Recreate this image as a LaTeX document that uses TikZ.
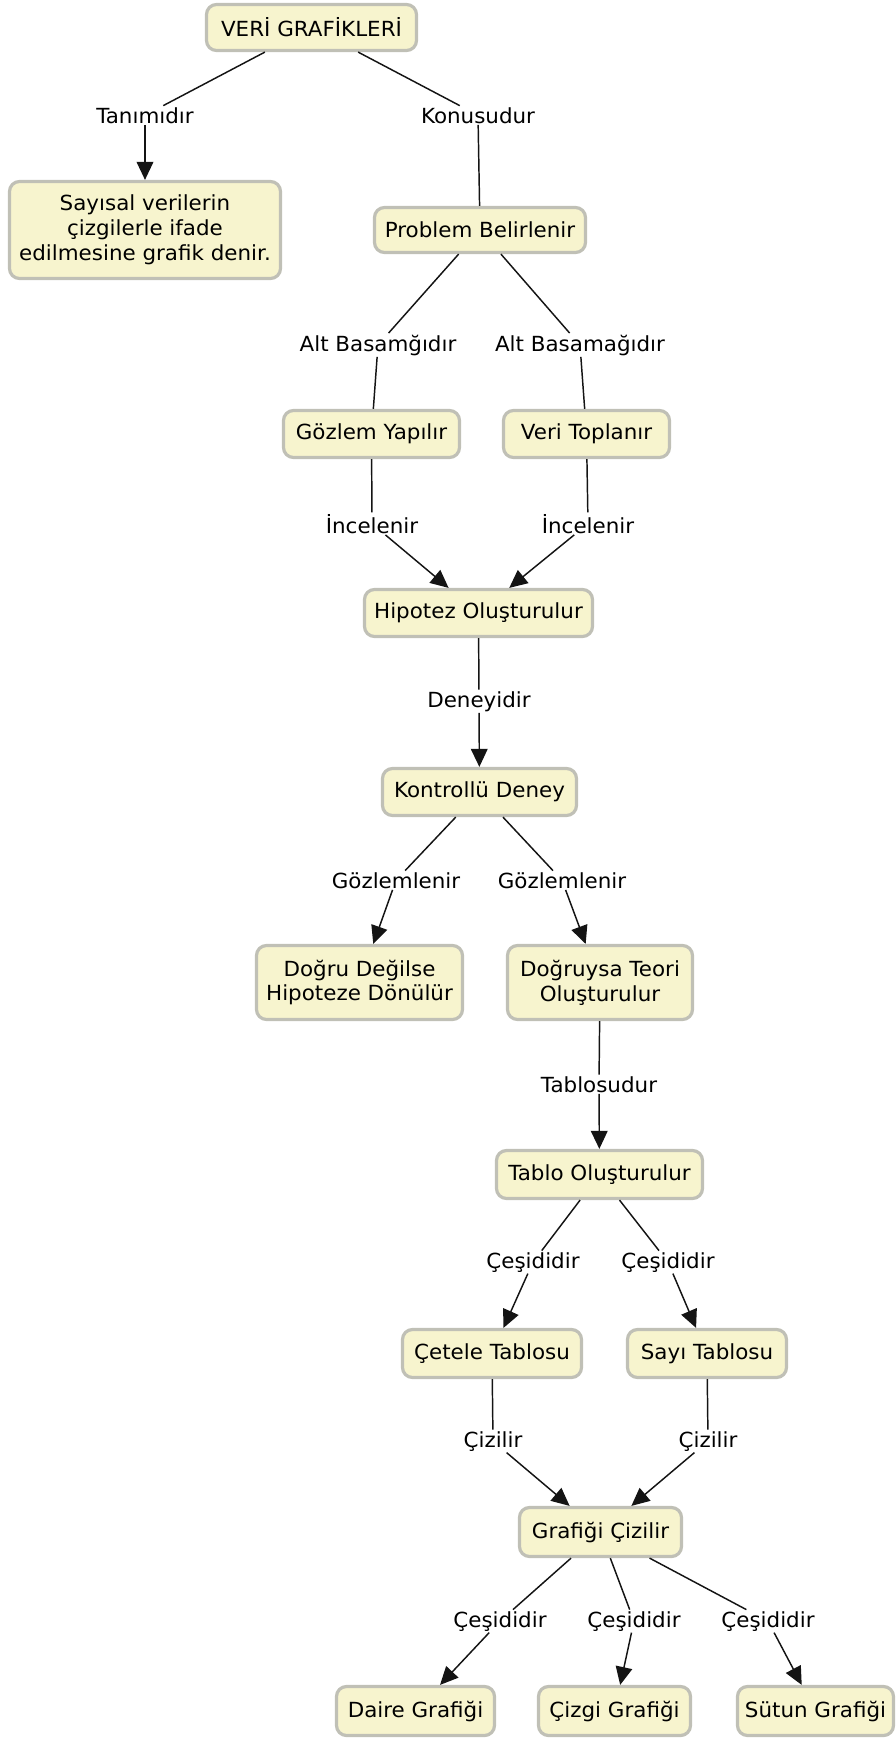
\documentclass[tikz,border=0pt]{standalone}
\usepackage{fontspec}
\setmainfont{DejaVu Sans}[FakeStretch=1.03]
\usetikzlibrary{arrows.meta}
\definecolor{boxfill}{RGB}{247,244,206}
\definecolor{boxline}{RGB}{192,192,182}
\definecolor{linkcol}{RGB}{20,20,20}
\newcommand\mapfont{\fontsize{15.6pt}{18.6pt}\selectfont}
\tikzset{
  cbox/.style={draw=boxline, fill=boxfill, line width=2.4pt, rounded corners=7.5pt,
    inner sep=0pt, align=center, font=\mapfont},
  lbl/.style={inner sep=1pt, anchor=base, font=\mapfont},
  link/.style={line width=1.1pt, draw=linkcol},
  arr/.style={link, -{Triangle[length=13.5pt,width=12.5pt]}},
}
\begin{document}
\begin{tikzpicture}[x=0.75pt, y=-0.75pt]
\useasboundingbox (0,0) rectangle (896,1739);

% concepts
\node[cbox, minimum width=157.5pt, minimum height=34.5pt] (veri) at (311.5,27.5) {VERİ GRAFİKLERİ};
\node[cbox, minimum width=203.25pt, minimum height=72.75pt] (tanim) at (145,230) {Sayısal verilerin\\çizgilerle ifade\\edilmesine grafik denir.};
\node[cbox, minimum width=158.25pt, minimum height=33.75pt] (pb) at (480,230) {Problem Belirlenir};
\node[cbox, minimum width=132pt, minimum height=35.25pt] (gozlem) at (371.5,434) {Gözlem Yapılır};
\node[cbox, minimum width=124.5pt, minimum height=35.25pt] (veritop) at (586.5,434) {Veri Toplanır};
\node[cbox, minimum width=171pt, minimum height=35.25pt] (hipotez) at (478.5,613) {Hipotez Oluşturulur};
\node[cbox, minimum width=145.5pt, minimum height=35.25pt] (kd) at (479.5,792) {Kontrollü Deney};
\node[cbox, minimum width=154.5pt, minimum height=55.5pt] (degil) at (359.5,982.5) {Doğru Değilse\\Hipoteze Dönülür};
\node[cbox, minimum width=138.75pt, minimum height=55.5pt] (teori) at (600,982.5) {Doğruysa Teori\\Oluşturulur};
\node[cbox, minimum width=154.5pt, minimum height=36pt] (tablo) at (599.5,1174.5) {Tablo Oluşturulur};
\node[cbox, minimum width=134.25pt, minimum height=36pt] (cetele) at (492,1353.5) {Çetele Tablosu};
\node[cbox, minimum width=119.25pt, minimum height=36pt] (sayi) at (707,1353.5) {Sayı Tablosu};
\node[cbox, minimum width=121.5pt, minimum height=36.75pt] (grafik) at (600.5,1532) {Grafiği Çizilir};
\node[cbox, minimum width=118.5pt, minimum height=36.75pt] (daire) at (415.5,1711) {Daire Grafiği};
\node[cbox, minimum width=114pt, minimum height=36.75pt] (cizgi) at (614.5,1711) {Çizgi Grafiği};
\node[cbox, minimum width=117pt, minimum height=36.75pt] (sutun) at (815.5,1711) {Sütun Grafiği};

% linking phrases
\node[lbl] (ltanim) at (145,123) {Tanımıdır};
\node[lbl] (lkonu) at (478,123) {Konusudur};
\node[lbl] (lalt1) at (378,351) {Alt Basamğıdır};
\node[lbl] (lalt2) at (580,351) {Alt Basamağıdır};
\node[lbl] (linc1) at (372,533) {İncelenir};
\node[lbl] (linc2) at (588,533) {İncelenir};
\node[lbl] (ldeney) at (479,707) {Deneyidir};
\node[lbl] (lgoz1) at (396,888) {Gözlemlenir};
\node[lbl] (lgoz2) at (562,888) {Gözlemlenir};
\node[lbl] (ltablo) at (599,1092) {Tablosudur};
\node[lbl] (lces1) at (533,1268) {Çeşididir};
\node[lbl] (lces2) at (668,1268) {Çeşididir};
\node[lbl] (lciz1) at (493,1447) {Çizilir};
\node[lbl] (lciz2) at (708,1447) {Çizilir};
\node[lbl] (lces3) at (500,1627) {Çeşididir};
\node[lbl] (lces4) at (634,1627) {Çeşididir};
\node[lbl] (lces5) at (768,1627) {Çeşididir};

% connections
\draw[link] (veri) -- (ltanim);
\draw[arr] (ltanim) -- (tanim);
\draw[link] (veri) -- (lkonu);
\draw[link] (lkonu) -- (pb);
\draw[link] (pb) -- (lalt1);
\draw[link] (lalt1) -- (gozlem);
\draw[link] (pb) -- (lalt2);
\draw[link] (lalt2) -- (veritop);
\draw[link] (gozlem) -- (linc1);
\draw[arr] (linc1) -- (hipotez);
\draw[link] (veritop) -- (linc2);
\draw[arr] (linc2) -- (hipotez);
\draw[link] (hipotez) -- (ldeney);
\draw[arr] (ldeney) -- (kd);
\draw[link] (kd) -- (lgoz1);
\draw[arr] (lgoz1) -- (degil);
\draw[link] (kd) -- (lgoz2);
\draw[arr] (lgoz2) -- (teori);
\draw[link] (teori) -- (ltablo);
\draw[arr] (ltablo) -- (tablo);
\draw[link] (tablo) -- (lces1);
\draw[arr] (lces1) -- (cetele);
\draw[link] (tablo) -- (lces2);
\draw[arr] (lces2) -- (sayi);
\draw[link] (cetele) -- (lciz1);
\draw[arr] (lciz1) -- (grafik);
\draw[link] (sayi) -- (lciz2);
\draw[arr] (lciz2) -- (grafik);
\draw[link] (grafik) -- (lces3);
\draw[arr] (lces3) -- (daire);
\draw[link] (grafik) -- (lces4);
\draw[arr] (lces4) -- (cizgi);
\draw[link] (grafik) -- (lces5);
\draw[arr] (lces5) -- (sutun);
\end{tikzpicture}
\end{document}
